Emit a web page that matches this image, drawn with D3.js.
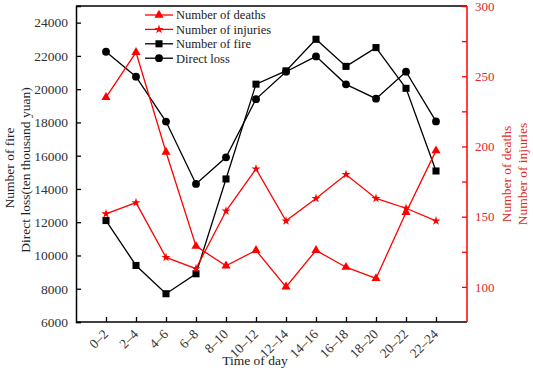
<!DOCTYPE html>
<html>
<head>
<meta charset="utf-8">
<script src="https://cdn.jsdelivr.net/npm/d3@7"></script>
<style>
  html, body { margin: 0; padding: 0; background: #fff; }
  svg text { font-family: "Liberation Serif", "Times New Roman", "DejaVu Serif", serif !important; }
</style>
</head>
<body>
<div id="chart"></div>
<script>
// data
const periods = ['0–2','2–4','4–6','6–8','8–10','10–12','12–14','14–16','16–18','18–20','20–22','22–24'];
const fires    = [12100, 9400, 7700, 8900, 14600, 20300, 21100, 23000, 21370, 22500, 20050, 15080];
const loss     = [22250, 20750, 18050, 14300, 15900, 19400, 21050, 21970, 20290, 19430, 21050, 18060];
const deaths   = [235, 267, 196, 129, 115, 126, 100, 126, 114, 106, 153, 197];
const injuries = [152, 160, 121, 113, 154, 184, 147, 163, 180, 163, 156, 147];
const leftTicks = [6000, 8000, 10000, 12000, 14000, 16000, 18000, 20000, 22000, 24000];
const rightTicks = [100, 125, 150, 175, 200, 225, 250, 275, 300];

const W = 533, H = 374;
const L = 76, R = 467, T = 6, B = 322;
const RED = '#ff0000', REDTXT = '#e02828';

const svg = d3.select('#chart').append('svg').attr('width', W).attr('height', H);

const x = d3.scalePoint().domain(periods).range([L, R - 1]).padding(1);
const yL = d3.scaleLinear().domain([6000, 25000]).range([B, T]);
const yR = d3.scaleLinear().domain([75, 300]).range([B, T]);

// frame
svg.append('line').attr('x1', L).attr('x2', R).attr('y1', T).attr('y2', T)
  .attr('stroke', '#000').attr('stroke-width', 1.5);

// left axis
const gl = svg.append('g').attr('transform', `translate(${L},0)`)
  .call(d3.axisLeft(yL).tickValues(leftTicks).tickSize(-5).tickPadding(8).tickFormat(d3.format('d')));
gl.select('.domain').attr('stroke', '#000').attr('stroke-width', 1.5);
gl.selectAll('.tick line').attr('stroke', '#000').attr('stroke-width', 1.3);
gl.selectAll('.tick text').attr('fill', '#333').style('font-size', '13.5px');

// bottom axis
const gb = svg.append('g').attr('transform', `translate(0,${B})`)
  .call(d3.axisBottom(x).tickSize(-5).tickFormat(''));
gb.select('.domain').attr('d', `M${L},0H${R}`).attr('stroke', '#000').attr('stroke-width', 1.5);
gb.selectAll('.tick line').attr('stroke', '#000').attr('stroke-width', 1.3);
svg.append('g').selectAll('text').data(periods).join('text')
  .attr('transform', d => `translate(${x(d) + 3},${B + 13}) rotate(-45)`)
  .attr('text-anchor', 'end')
  .attr('fill', '#333')
  .style('font-size', '13.5px')
  .text(d => d);

// right axis
const gr = svg.append('g').attr('transform', `translate(${R},0)`)
  .call(d3.axisRight(yR).tickValues(rightTicks).tickSize(-5).tickPadding(8)
    .tickFormat(d => d % 50 === 0 ? d : ''));
gr.select('.domain').attr('d', `M0,${T}V${B}`).attr('stroke', RED).attr('stroke-width', 1.5);
gr.selectAll('.tick line').attr('stroke', RED).attr('stroke-width', 1.3);
gr.selectAll('.tick text').attr('fill', REDTXT).style('font-size', '13px');

// titles
svg.append('text').attr('transform', 'translate(14,168) rotate(-90)')
  .attr('text-anchor', 'middle').style('font-size', '13.5px').attr('fill', '#222').text('Number of fire');
svg.append('text').attr('transform', 'translate(30,170) rotate(-90)')
  .attr('text-anchor', 'middle').style('font-size', '13.5px').attr('fill', '#222').text('Direct loss(ten thousand yuan)');
svg.append('text').attr('transform', 'translate(511,174) rotate(-90)')
  .attr('text-anchor', 'middle').style('font-size', '13.5px').attr('fill', REDTXT).text('Number of deaths');
svg.append('text').attr('transform', 'translate(527,174) rotate(-90)')
  .attr('text-anchor', 'middle').style('font-size', '13.5px').attr('fill', REDTXT).text('Number of injuries');
svg.append('text').attr('x', 255).attr('y', 365)
  .attr('text-anchor', 'middle').style('font-size', '13.5px').attr('fill', '#222').text('Time of day');

// series
const series = [
  { name: 'Number of deaths',   values: deaths,   y: yR, color: RED,    sym: d3.symbolTriangle, size: 36 },
  { name: 'Number of injuries', values: injuries, y: yR, color: RED,    sym: d3.symbolStar,     size: 26 },
  { name: 'Number of fire',     values: fires,    y: yL, color: '#000', sym: d3.symbolSquare,   size: 50 },
  { name: 'Direct loss',        values: loss,     y: yL, color: '#000', sym: d3.symbolCircle,   size: 48 }
];

const drawOrder = [series[3], series[2], series[0], series[1]];
drawOrder.forEach(s => {
  const line = d3.line().x((d, i) => x(periods[i])).y(d => s.y(d));
  svg.append('path').datum(s.values).attr('d', line)
    .attr('fill', 'none').attr('stroke', s.color).attr('stroke-width', 1.3);
  svg.append('g').selectAll('path').data(s.values).join('path')
    .attr('transform', (d, i) => `translate(${x(periods[i])},${s.y(d)})`)
    .attr('d', d3.symbol(s.sym, s.size))
    .attr('fill', s.color);
});

// legend
const lg = svg.append('g');
series.forEach((s, i) => {
  const yy = 15 + i * 14.4;
  lg.append('line').attr('x1', 145).attr('x2', 173).attr('y1', yy).attr('y2', yy)
    .attr('stroke', s.color).attr('stroke-width', 1.3);
  lg.append('path').attr('transform', `translate(159,${yy})`)
    .attr('d', d3.symbol(s.sym, s.size)).attr('fill', s.color);
  lg.append('text').attr('x', 176).attr('y', yy).attr('dy', '0.35em')
    .style('font-size', '12.5px').attr('fill', '#222').text(s.name);
});
</script>
</body>
</html>
